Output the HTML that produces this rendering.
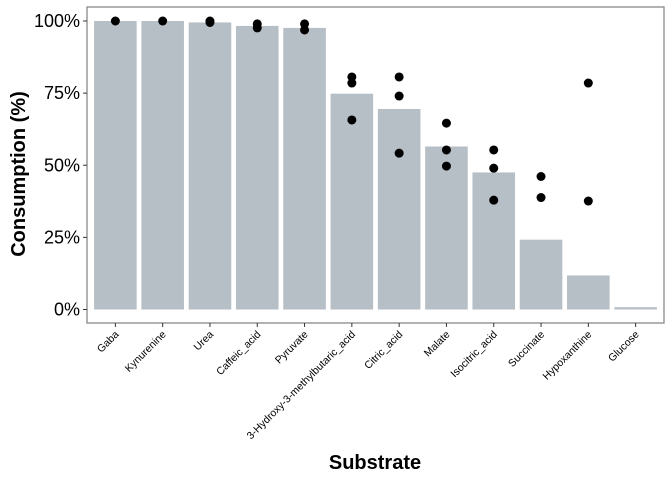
<!DOCTYPE html>
<html><head><meta charset="utf-8"><style>body{margin:0;background:#fff}svg{display:block;font-family:"Liberation Sans",sans-serif}</style></head>
<body>
<svg id="chart" width="672" height="480" xmlns="http://www.w3.org/2000/svg"></svg>
<script>
const categories=["Gaba","Kynurenine","Urea","Caffeic_acid","Pyruvate","3-Hydroxy-3-methylbutaric_acid","Citric_acid","Malate","Isocitric_acid","Succinate","Hypoxanthine","Glucose"];
const barValues=[100,100,99.5,98.3,97.6,74.8,69.5,56.5,47.5,24.2,11.8,0.8];
const pointValues=[[100],[100],[100,99.5],[99,97.6],[99,96.9],[80.6,78.5,65.7],[80.6,74,54.2],[64.6,55.3,49.7],[55.3,49,37.9],[46.1,38.8],[78.5,37.6],[]];
const yTicks=[0,25,50,75,100];
const yTickLabels=["0%","25%","50%","75%","100%"];
const NS="http://www.w3.org/2000/svg";
const svg=document.getElementById("chart");
const L=87,R=664,T=7,B=323;
const step=(R-L)/12.2;
const x=i=>L+step*(0.6+i);
const y=v=>309.5-v*2.885;
function mk(tag,attrs,parent){const e=document.createElementNS(NS,tag);for(const k in attrs)e.setAttribute(k,attrs[k]);(parent||svg).appendChild(e);return e;}
const border=mk("rect",{x:L,y:T,width:R-L,height:B-T,fill:"none",stroke:"#888","stroke-width":1.3});


categories.forEach((c,i)=>{
  const bw=step*0.9;
  const b=mk("rect",{x:x(i)-bw/2,y:y(barValues[i]),width:bw,height:y(0)-y(barValues[i]),fill:"#b6bec6"});
  
  
  pointValues[i].forEach(v=>{
    const p=mk("circle",{cx:x(i),cy:y(v),r:4.5,fill:"#000"});
    
    
  });
  mk("line",{x1:x(i),x2:x(i),y1:B,y2:B+4,stroke:"#333","stroke-width":1});
  const t=mk("text",{x:x(i)+4,y:B+12,"text-anchor":"end","font-size":10.5,fill:"#000",transform:`rotate(-45 ${x(i)+4} ${B+12})`});
  t.textContent=c;
  
  
});
yTicks.forEach((v,i)=>{
  mk("line",{x1:L-4,x2:L,y1:y(v),y2:y(v),stroke:"#333","stroke-width":1});
  const t=mk("text",{x:L-7,y:y(v)+6,"text-anchor":"end","font-size":18,fill:"#000"});
  t.textContent=yTickLabels[i];
  
  
});
const xt=mk("text",{x:375,y:469,"text-anchor":"middle","font-size":20,"font-weight":"bold"});
xt.textContent="Substrate";


const yt=mk("text",{x:25,y:174,"text-anchor":"middle","font-size":20,"font-weight":"bold",transform:"rotate(-90 25 174)"});
yt.textContent="Consumption (%)";


</script>
</body></html>
